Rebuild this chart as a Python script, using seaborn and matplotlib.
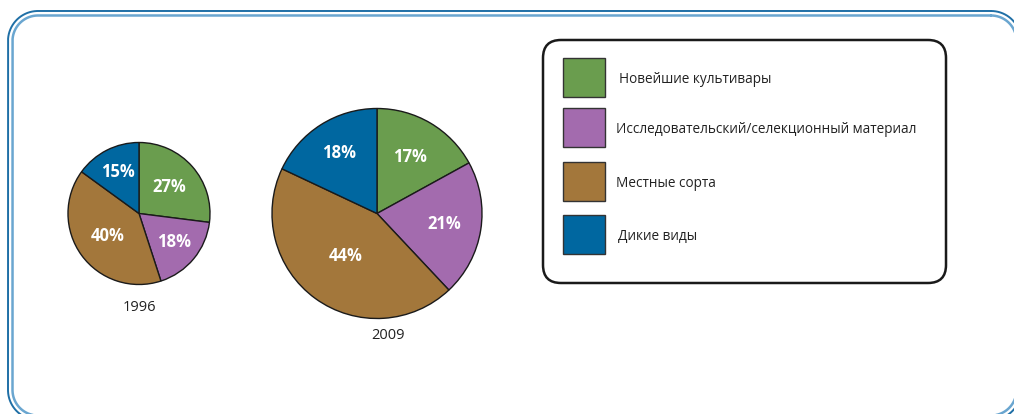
import matplotlib
matplotlib.use("Agg")
import numpy as np
import matplotlib.pyplot as plt
from matplotlib.patches import FancyBboxPatch, Rectangle
import seaborn as sns

# Data
categories = [
    "Новейшие культивары",
    "Исследовательский/селекционный материал",
    "Местные сорта",
    "Дикие виды",
]
shares_1996 = [27, 18, 40, 15]
shares_2009 = [17, 21, 44, 18]
years = ["1996", "2009"]
palette = sns.color_palette(["#6a9d4e", "#a36bae", "#a3773b", "#0067a0"])

sns.set_theme(style="white")
plt.rcParams["font.family"] = ["Open Sans", "DejaVu Sans"]

W, H = 1014, 414
fig = plt.figure(figsize=(W / 100 + 1e-4, H / 100 + 1e-4), dpi=100)
ax = fig.add_axes([0, 0, 1, 1])


def Y(y):
    # top-down pixel row -> data y
    return H - y


def draw_pie(values, cx, cy, r, label_fracs):
    wedges, _, autotexts = ax.pie(
        values,
        colors=palette,
        startangle=90,
        counterclock=False,
        center=(cx, Y(cy)),
        radius=r,
        autopct=lambda p: f"{p:.0f}%",
        wedgeprops=dict(edgecolor="#1a1a1a", linewidth=1.0),
        textprops=dict(color="white", fontweight="bold", fontsize=12),
    )
    # place each percentage at its own radial distance along the wedge bisector
    for w, t, f in zip(wedges, autotexts, label_fracs):
        mid = np.deg2rad((w.theta1 + w.theta2) / 2)
        t.set_position((cx + f * r * np.cos(mid), Y(cy) + f * r * np.sin(mid)))
    return wedges


draw_pie(shares_1996, 139, 213.5, 71, [0.56, 0.64, 0.54, 0.65])
draw_pie(shares_2009, 377, 213.5, 105, [0.62, 0.65, 0.5, 0.68])

ax.text(139, Y(307), years[0], ha="center", va="center", fontsize=10.5, color="#222222")
ax.text(388, Y(335), years[1], ha="center", va="center", fontsize=10.5, color="#222222")

# Legend box
ax.add_patch(FancyBboxPatch((543 + 18, Y(283) + 18), 946 - 543 - 36, 283 - 40 - 36,
                            boxstyle="round,pad=18", facecolor="white",
                            edgecolor="#1a1a1a", linewidth=1.8))
square_tops = [58, 108, 162, 215]
text_x = [619, 616, 616, 618]
for i, (lab, col) in enumerate(zip(categories, palette)):
    top = square_tops[i]
    ax.add_patch(Rectangle((563, Y(top + 39)), 42, 39, facecolor=col,
                           edgecolor="#333333", linewidth=1.0))
    ax.text(text_x[i], Y(top + 21), lab, ha="left", va="center",
            fontsize=9.8, color="#222222")


def rounded_frame(left, top, right, bottom, r, **kw):
    # closed rounded rectangle outline, coordinates in pixel rows from the top
    pts = []
    corners = [(right - r, top + r, 90, 0), (right - r, bottom - r, 0, -90),
               (left + r, bottom - r, -90, -180), (left + r, top + r, 180, 90)]
    for cx, cy, a0, a1 in corners:
        a = np.deg2rad(np.linspace(a0, a1, 40))
        pts.append(np.column_stack([cx + r * np.cos(a), Y(cy) + r * np.sin(a)]))
    pts = np.vstack(pts + [pts[0][:1]])
    ax.plot(pts[:, 0], pts[:, 1], solid_capstyle="round", **kw)


rounded_frame(8, 11, 1021, 420, 30, color="#1f6fa6", lw=1.4)
rounded_frame(12.5, 15.5, 1016.5, 415.5, 25.5, color="#6aa6d0", lw=1.8)

ax.set_xlim(0, W)
ax.set_ylim(0, H)
ax.set_aspect("auto")
ax.axis("off")

fig.savefig("out.png", dpi=100, facecolor="white")
